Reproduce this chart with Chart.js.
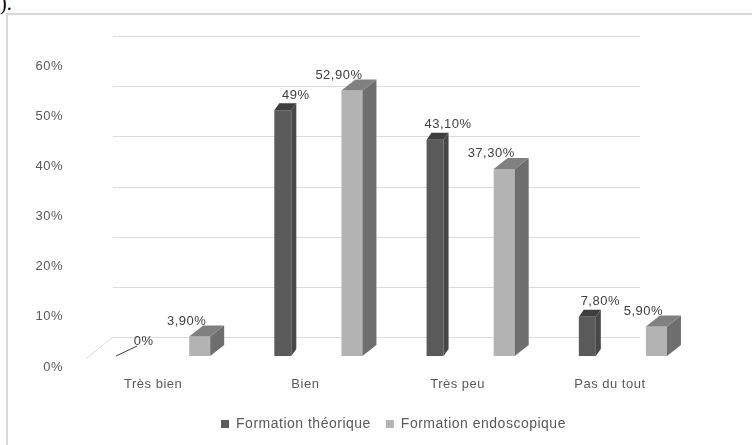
<!DOCTYPE html>
<html>
<head>
<meta charset="utf-8">
<script src="https://cdn.jsdelivr.net/npm/chart.js@4"></script>
<style>
  html, body { margin: 0; padding: 0; background: #fff; width: 752px; height: 445px; overflow: hidden; }
  #prev { position: absolute; left: 0; top: -8px; font: 20px "Liberation Serif", serif; color: #000; }
  #frame { position: absolute; left: 6px; top: 13px; width: 760px; height: 440px;
           border-top: 2px solid #d9d9d9; border-left: 2px solid #d9d9d9; }
  canvas { position: absolute; left: 0; top: 0; }
</style>
</head>
<body>
<div id="prev">).</div>
<div id="frame"></div>
<canvas id="c" width="752" height="445"></canvas>
<script>
// Survey answers per training type (percent of respondents)
const categories = ['Très bien', 'Bien', 'Très peu', 'Pas du tout'];
const theorique = [0, 49, 43.1, 7.8];
const endoscopique = [3.9, 52.9, 37.3, 5.9];
const seriesNames = ['Formation théorique', 'Formation endoscopique'];
const yMin = 0, yMax = 60, yStep = 10;

const FONT = '"Liberation Sans", Arial, sans-serif';
const WALL = { dx: 24, dy: -19 };          // back-wall offset of the pseudo-3D floor
const DEPTH = [
  { dx: 5,  dy: -7,  top: '#3e3e3e', side: '#474747' },
  { dx: 14, dy: -11, top: '#808080', side: '#6e6e6e' }
];
const LABEL_SHIFT = [13, -13];

const fmt = v => Number.isInteger(v) ? v + '%' : v.toFixed(2).replace('.', ',') + '%';

// slightly spaced lettering for every text on the canvas
const spacing = {
  id: 'spacing',
  beforeLayout(chart) { chart.ctx.letterSpacing = '0.5px'; },
  beforeDraw(chart) { chart.ctx.letterSpacing = '0.5px'; }
};

// gridlines on the back wall plus the left floor edge
const wall = {
  id: 'wall',
  beforeDatasetsDraw(chart) {
    const { ctx, chartArea: a, scales: { y } } = chart;
    const x0 = a.left + WALL.dx, x1 = a.right - 58;
    ctx.save();
    ctx.strokeStyle = '#dadada';
    ctx.lineWidth = 1;
    y.ticks.forEach(t => {
      const py = Math.round(y.getPixelForValue(t.value) + WALL.dy) + 0.5;
      ctx.beginPath(); ctx.moveTo(x0, py); ctx.lineTo(x1, py); ctx.stroke();
    });
    const fy = y.getPixelForValue(0);
    ctx.beginPath(); ctx.moveTo(a.left - 2, fy + 2); ctx.lineTo(x0, fy + WALL.dy); ctx.stroke();
    ctx.restore();
  }
};

// top and side faces for each bar
const boxes = {
  id: 'boxes',
  afterDatasetsDraw(chart) {
    const ctx = chart.ctx;
    ctx.save();
    chart.data.datasets.forEach((ds, i) => {
      const d = DEPTH[i];
      chart.getDatasetMeta(i).data.forEach(bar => {
        const { x, y, base, width } = bar.getProps(['x', 'y', 'base', 'width'], true);
        const l = x - width / 2, r = x + width / 2;
        if (Math.abs(base - y) < 1) {
          ctx.strokeStyle = '#404040'; ctx.lineWidth = 1;
          ctx.beginPath(); ctx.moveTo(l - 6, base); ctx.lineTo(r - 2, base + d.dy - 3); ctx.stroke();
          return;
        }
        ctx.fillStyle = d.side;
        ctx.beginPath();
        ctx.moveTo(r, y); ctx.lineTo(r + d.dx, y + d.dy); ctx.lineTo(r + d.dx, base + d.dy); ctx.lineTo(r, base);
        ctx.closePath(); ctx.fill();
        ctx.fillStyle = d.top;
        ctx.beginPath();
        ctx.moveTo(l, y); ctx.lineTo(l + d.dx, y + d.dy); ctx.lineTo(r + d.dx, y + d.dy); ctx.lineTo(r, y);
        ctx.closePath(); ctx.fill();
      });
    });
    ctx.restore();
  }
};

// value labels above the bars
const values = {
  id: 'values',
  afterDatasetsDraw(chart) {
    const ctx = chart.ctx;
    ctx.save();
    ctx.font = '13px ' + FONT;
    ctx.fillStyle = '#404040';
    ctx.textAlign = 'center';
    ctx.textBaseline = 'middle';
    chart.data.datasets.forEach((ds, i) => {
      chart.getDatasetMeta(i).data.forEach((bar, j) => {
        ctx.fillText(fmt(ds.data[j]), bar.x + LABEL_SHIFT[i], bar.y - 15);
      });
    });
    ctx.restore();
  }
};

new Chart(document.getElementById('c'), {
  type: 'bar',
  data: {
    labels: categories,
    datasets: [
      { label: seriesNames[0], data: theorique, backgroundColor: '#5a5a5a',
        barPercentage: 0.246, categoryPercentage: 0.908 },
      { label: seriesNames[1], data: endoscopique, backgroundColor: '#b3b3b3',
        barPercentage: 0.304, categoryPercentage: 0.908 }
    ]
  },
  options: {
    responsive: false,
    animation: false,
    devicePixelRatio: 1,
    layout: { padding: { left: 0, right: 54, top: 55, bottom: 4 } },
    scales: {
      x: {
        grid: { display: false, drawTicks: false },
        border: { display: false },
        ticks: { color: '#595959', font: { family: FONT, size: 13 }, padding: 21, labelOffset: -12, maxRotation: 0 },
        afterFit(s) { s.height = 46; }
      },
      y: {
        min: yMin, max: yMax,
        grid: { display: false, drawTicks: false },
        border: { display: false },
        ticks: { stepSize: yStep, color: '#595959', font: { family: FONT, size: 13 }, padding: 26, labelOffset: 11,
                 callback: v => v + '%' },
        afterFit(s) { s.width = 89; }
      }
    },
    plugins: {
      legend: {
        position: 'bottom',
        fullSize: false,
        labels: { boxWidth: 8, boxHeight: 8, padding: 15, color: '#595959', font: { family: FONT, size: 14 } }
      },
      tooltip: { enabled: false }
    }
  },
  plugins: [spacing, wall, boxes, values]
});
</script>
</body>
</html>
